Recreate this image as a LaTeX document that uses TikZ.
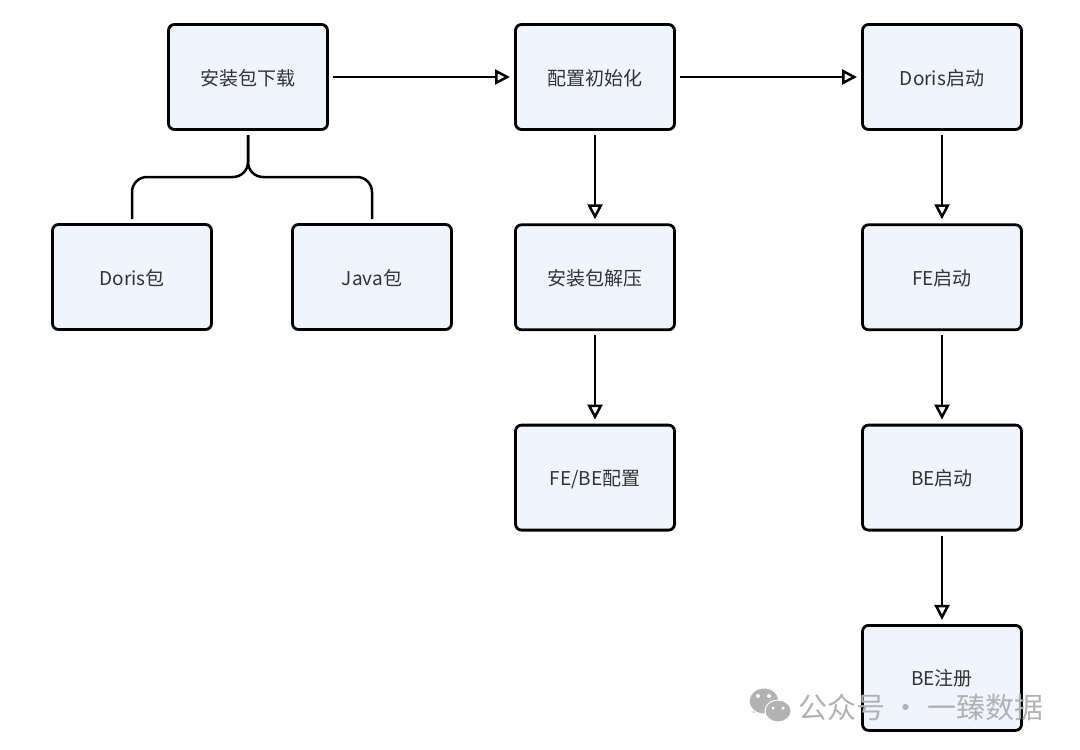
\documentclass[tikz,border=0pt]{standalone}
\usepackage{fontspec}
\setmainfont{Noto Sans CJK SC}
\usetikzlibrary{positioning,arrows.meta}
\definecolor{boxfill}{HTML}{F0F4FC}
\definecolor{boxtext}{HTML}{333333}
\definecolor{markgray}{HTML}{B2B2B2}
\tikzset{
    stepbox/.style={draw=black, line width=2.8pt, fill=boxfill, rounded corners=6pt,
        minimum width=159pt, minimum height=105pt, outer sep=5.5pt,
        text height=18pt, text depth=2pt,
        text=boxtext, font=\fontsize{19}{21}\selectfont},
    flow/.style={line width=2.5pt, -{Triangle[open,fill=white,length=15pt,width=15pt,line width=2.5pt]}},
    fork/.style={line width=2.5pt, rounded corners=15pt},
    wechat/.style={fill=markgray, draw=white, line width=1pt},
    eye/.style={fill=white, circle, inner sep=0pt, minimum size=4pt}
}
\begin{document}
\begin{tikzpicture}[x=1pt, y=-1pt]
    \useasboundingbox (0,0) rectangle (1080,750);
    %top row
    \node [stepbox] (pkg) at (248,77) {安装包下载};
    \node [stepbox, right=177pt of pkg] (init) {配置初始化};
    \node [stepbox, right=177pt of init] (start) {Doris启动};
    %packages
    \node [stepbox] (doris) at (132,277) {Doris包};
    \node [stepbox] (java) at (372,277) {Java包};
    %config column
    \node [stepbox, below=84.3pt of init] (unzip) {安装包解压};
    \node [stepbox, below=84.3pt of unzip] (conf) {FE/BE配置};
    %start column
    \node [stepbox, below=84.3pt of start] (fe) {FE启动};
    \node [stepbox, below=84.3pt of fe] (be) {BE启动};
    \node [stepbox, below=84.3pt of be] (reg) {BE注册};
    \coordinate (forkmid) at (248,177);

    \draw [flow] (pkg) -- (init);
    \draw [flow] (init) -- (start);
    \draw [flow] (init) -- (unzip);
    \draw [flow] (unzip) -- (conf);
    \draw [flow] (start) -- (fe);
    \draw [flow] (fe) -- (be);
    \draw [flow] (be) -- (reg);
    \draw [fork] (pkg.south) -- (forkmid) -- (doris.north |- forkmid) -- (doris.north);
    \draw [fork] (pkg.south) -- (forkmid) -- (java.north |- forkmid) -- (java.north);

    %watermark
    \fill [markgray] (755,706) -- (753,713) -- (762,709) -- cycle;
    \fill [wechat] (764,701) ellipse [x radius=15, y radius=13];
    \fill [wechat] (778,711) ellipse [x radius=13, y radius=11];
    \node [eye] (eyea) at (758,696) {};
    \node [eye] (eyeb) at (769,696) {};
    \node [eye, minimum size=3.5pt] (eyec) at (773,708) {};
    \node [eye, minimum size=3.5pt] (eyed) at (783,708) {};
    \node [text=markgray, font=\fontsize{29}{31}\selectfont, anchor=west, inner sep=0pt] (mark) at (798,707) {公众号 · 一臻数据};
\end{tikzpicture}
\end{document}
